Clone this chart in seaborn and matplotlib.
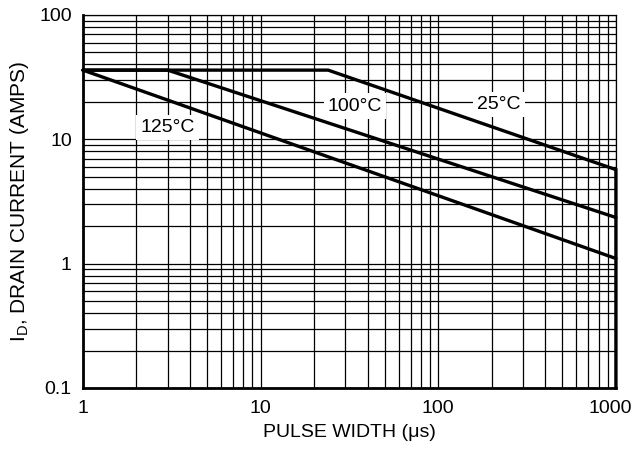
import numpy as np
import pandas as pd
import matplotlib
matplotlib.use("Agg")
import matplotlib.pyplot as plt
import matplotlib.transforms as mtransforms
import seaborn as sns
from matplotlib.ticker import LogLocator, FixedLocator, FixedFormatter, NullFormatter

# safe operating curves (pulse width in us, current in A)
pw_25 = [1, 24, 1000, 1000]
id_25 = [36, 36, 5.7, 0.1]
pw_100 = [1, 3, 1000]
id_100 = [36, 36, 2.35]
pw_125 = [1, 1000]
id_125 = [36, 1.1]

curve_labels = ["25°C", "100°C", "125°C"]
label_x = [220, 34, 3.0]
label_y = [19, 18.5, 12.5]

x_ticks = [1, 10, 100, 1000]
x_ticklabels = ["1", "10", "100", "1000"]
y_ticks = [0.1, 1, 10, 100]
y_ticklabels = ["0.1", "1", "10", "100"]

sns.set_style("white")
plt.rcParams['font.family'] = ['Liberation Sans', 'DejaVu Sans']
plt.rcParams['mathtext.fontset'] = 'custom'
plt.rcParams['mathtext.rm'] = 'Liberation Sans'

fig = plt.figure(figsize=(6.33, 4.53), dpi=100)
ax = fig.add_axes([0.131, 0.1435, 0.842, 0.8235])

for xs, ys in [(pw_25, id_25), (pw_100, id_100), (pw_125, id_125)]:
    d = pd.DataFrame({"pw": xs, "id": ys})
    sns.lineplot(data=d, x="pw", y="id", ax=ax, color="black", lw=2.4,
                 sort=False, estimator=None, solid_joinstyle="miter", clip_on=False)

ax.set_xscale("log")
ax.set_yscale("log")
ax.set_xlim(1, 1000)
ax.set_ylim(0.1, 100)

ax.xaxis.set_major_locator(FixedLocator(x_ticks))
ax.xaxis.set_major_formatter(FixedFormatter(x_ticklabels))
ax.yaxis.set_major_locator(FixedLocator(y_ticks))
ax.yaxis.set_major_formatter(FixedFormatter(y_ticklabels))
ax.xaxis.set_minor_locator(LogLocator(base=10, subs=np.arange(2, 10)))
ax.yaxis.set_minor_locator(LogLocator(base=10, subs=np.arange(2, 10)))
ax.xaxis.set_minor_formatter(NullFormatter())
ax.yaxis.set_minor_formatter(NullFormatter())

ax.grid(which="both", color="black", lw=0.9)
ax.set_axisbelow(True)
ax.tick_params(which="both", length=0, labelsize=14, colors="black")
ax.tick_params(axis="x", pad=9)
ax.tick_params(axis="y", pad=8)

# last x label sits a bit left so it fits in the figure
fig.canvas.draw()
last = ax.get_xticklabels()[-1]
last.set_transform(last.get_transform() + mtransforms.ScaledTranslation(-6 / 100, 0, fig.dpi_scale_trans))

for s in ["left", "bottom"]:
    ax.spines[s].set_linewidth(2.0)
for s in ["top", "right"]:
    ax.spines[s].set_linewidth(0.9)
for s in ax.spines.values():
    s.set_color("black")

for t, x, y in zip(curve_labels, label_x, label_y):
    ax.text(x, y, t, ha="center", va="center", fontsize=14, zorder=5, color="black",
            bbox=dict(facecolor="white", edgecolor="none", pad=3))

ax.set_xlabel("PULSE WIDTH (\u03bcs)", fontsize=14, labelpad=5, color="black")
ax.set_ylabel(r"I$_\mathregular{D}$, DRAIN CURRENT (AMPS)", fontsize=15, labelpad=6, color="black")

plt.savefig("out.png", dpi=100)
